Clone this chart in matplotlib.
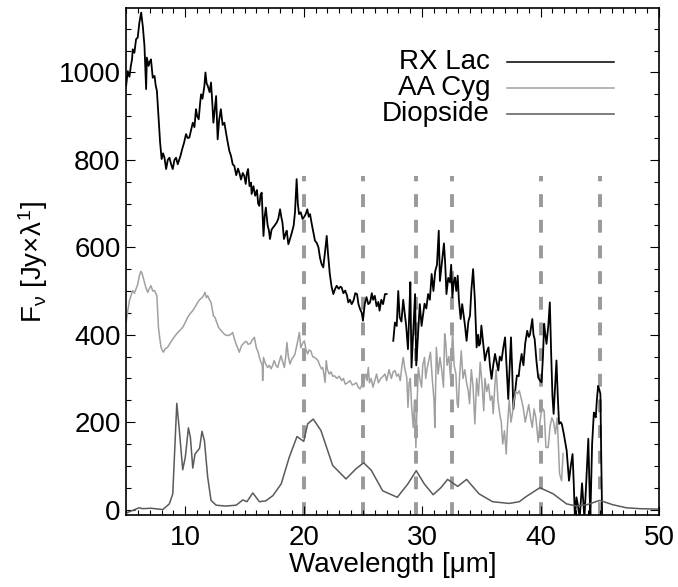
import numpy as np
import matplotlib
matplotlib.use("Agg")
import matplotlib.pyplot as plt

# =========================
# data
# =========================
rx_wave = [5.0, 5.14, 5.28, 5.4, 5.5, 5.56, 5.7, 5.84, 5.98, 6.12, 6.27, 6.41, 6.55, 6.69, 6.75, 6.9,
           7.0, 7.1, 7.25, 7.4, 7.5, 7.6, 7.73, 7.87, 8.0, 8.12, 8.24, 8.38, 8.52, 8.66, 8.8, 8.94,
           9.08, 9.22, 9.36, 9.5, 9.6, 9.73, 9.9, 10.06, 10.2, 10.34, 10.5, 10.63, 10.77, 10.9, 11.0,
           11.13, 11.25, 11.33, 11.45, 11.61, 11.7, 11.8, 11.9, 12.05, 12.17, 12.27, 12.37, 12.5, 12.6,
           12.73, 12.85, 13.0, 13.15, 13.3, 13.45, 13.58, 13.72, 13.86, 14.0, 14.14, 14.3, 14.45, 14.56,
           14.7, 14.85, 14.98, 15.1, 15.2, 15.3, 15.42, 15.55, 15.6, 15.75, 15.9, 16.05, 16.15, 16.25,
           16.35, 16.45, 16.6, 16.7, 16.8, 16.95, 17.05, 17.15, 17.28, 17.4, 17.55, 17.72, 17.85, 18.0,
           18.1, 18.2, 18.33, 18.45, 18.56, 18.7, 18.85, 19.0, 19.15, 19.26, 19.4, 19.5, 19.6, 19.75,
           19.9, 20.0, 20.15, 20.3, 20.42, 20.53, 20.7, 20.95, 21.1, 21.24, 21.38, 21.5, 21.65, 21.8,
           21.94, 22.05, 22.2, 22.35, 22.5, 22.65, 22.78, 22.95, 23.1, 23.2, 23.35, 23.5, 23.65, 23.76,
           23.9, 24.05, 24.2, 24.35, 24.5, 24.62, 24.75, 24.9, 25.0, 25.15, 25.3, 25.45, 25.6, 25.75,
           25.85, 26.0, 26.15, 26.3, 26.4, 26.55, 26.7, 26.86, 27.0, 27.2,
           27.56, 27.7, 27.85, 27.98, 28.1, 28.25, 28.4, 28.5, 28.65, 28.8, 28.9, 29.0, 29.1, 29.25,
           29.4, 29.5, 29.65, 29.8, 29.95, 30.05, 30.2, 30.35, 30.5, 30.65, 30.8, 30.95, 31.1, 31.25,
           31.4, 31.5, 31.65, 31.84, 31.95, 32.05, 32.2, 32.34, 32.45, 32.55, 32.66, 32.76, 32.88, 33.0,
           33.1, 33.25, 33.38, 33.5, 33.62, 33.75, 33.9, 34.04, 34.15, 34.3, 34.45, 34.6, 34.72, 34.8,
           34.9, 35.0, 35.15, 35.3, 35.45, 35.6, 35.72, 35.86, 36.0, 36.15, 36.3, 36.43, 36.55, 36.7,
           36.85, 37.0, 37.12, 37.27, 37.38, 37.5, 37.6, 37.7, 37.85, 38.0, 38.15, 38.25, 38.4, 38.55,
           38.7, 38.87, 39.0, 39.1, 39.3, 39.4, 39.5, 39.65, 39.8, 39.95, 40.08, 40.2, 40.3, 40.4, 40.5,
           40.65, 40.78, 40.9, 41.0, 41.1, 41.22, 41.34, 41.45, 41.56, 41.7, 41.8, 41.96, 42.1, 42.2,
           42.3, 42.4, 42.55, 42.7, 42.8, 42.9, 43.03, 43.15, 43.3, 43.4, 43.5, 43.6, 43.7, 43.85, 44.03,
           44.12, 44.2, 44.35, 44.5, 44.58, 44.66, 44.75, 44.86, 44.95, 45.05, 45.12, 45.2]
rx_flux = [969, 1003, 990, 1015, 1030, 1053, 1045, 1076, 1080, 1114, 1137, 1106, 1061, 962, 1034, 1015,
           1025, 1030, 988, 992, 970, 958, 901, 840, 802, 815, 805, 779, 800, 805, 790, 779,
           800, 805, 790, 802, 810, 824, 840, 859, 850, 851, 870, 885, 875, 916, 900,
           893, 930, 950, 940, 969, 1000, 975, 969, 955, 977, 935, 885, 920, 946,
           847, 890, 916, 880, 885, 860, 840, 820, 809, 790, 786, 765, 780, 771,
           755, 770, 763, 745, 770, 779, 740, 748, 722, 740, 718, 731, 700, 695,
           720, 725, 626, 670, 691, 650, 640, 619, 640, 645, 650, 657, 665, 687,
           670, 657, 619, 630, 638, 607, 620, 634, 650, 680, 756, 700, 676, 680,
           665, 668, 675, 687, 670, 676, 650, 615, 610, 600, 575, 562, 554, 590,
           626, 585, 539, 510, 493, 505, 512, 505, 510, 508, 495, 501, 490, 474,
           480, 470, 478, 495, 493, 470, 459, 450, 432, 470, 486, 470, 474, 495,
           480, 489, 465, 475, 455, 480, 470, 493, 493, np.nan,
           386, 428, 420, 500, 440, 430, 480, 455, 420, 367, 440, 520, 325, 410,
           493, 330, 400, 470, 420, 440, 471, 460, 493, 480, 539, 500, 545, 560,
           638, 523, 560, 609, 560, 493, 530, 520, 560, 485, 520, 531, 500, 535,
           480, 436, 470, 444, 420, 386, 430, 444, 500, 550, 480, 371, 400, 375,
           380, 421, 380, 341, 360, 371, 330, 299, 330, 356, 335, 318, 350, 341,
           370, 394, 330, 253, 320, 394, 320, 230, 270, 307, 305, 330, 356, 330,
           380, 409, 395, 400, 436, 400, 390, 340, 302, 295, 291, 350, 425, 400, 379,
           420, 474, 350, 260, 219, 280, 341, 260, 196, 200, 195, 173, 150, 135,
           100, 66, 100, 127, 60, -20, 28, 10, -20, 20, 60, 20, -20, 60, 162,
           60, -20, 150, 222, 215, 211, 250, 283, 275, 265, 120, -20]

aa_wave = [5.0, 5.14, 5.28, 5.42, 5.56, 5.7, 5.84, 5.98, 6.12, 6.25, 6.35, 6.45, 6.55, 6.7, 6.83, 6.95,
           7.1, 7.25, 7.4, 7.5, 7.6, 7.73, 7.85, 7.95, 8.05, 8.15, 8.3, 8.5, 8.7, 8.94, 9.15, 9.36,
           9.55, 9.78, 10.0, 10.2, 10.4, 10.63, 10.85, 11.05, 11.2, 11.41, 11.55, 11.66, 11.78, 11.89,
           12.0, 12.17, 12.3, 12.37, 12.5, 12.6, 12.7, 12.8, 13.0, 13.16, 13.35, 13.58, 13.8, 14.0,
           14.15, 14.28, 14.42, 14.56, 14.75, 14.98, 15.15, 15.3, 15.5, 15.65, 15.83, 16.0, 16.15,
           16.33, 16.5, 16.53, 16.6, 16.75, 16.95, 17.1, 17.24, 17.38, 17.5, 17.65, 17.8, 17.95, 18.08,
           18.2, 18.36, 18.48, 18.58, 18.7, 18.84, 19.0, 19.15, 19.26, 19.45, 19.63, 19.75, 19.9, 20.05,
           20.2, 20.33, 20.45, 20.6, 20.75, 20.9, 21.05, 21.2, 21.35, 21.5, 21.6, 21.7, 21.8, 21.9,
           22.0, 22.16, 22.3, 22.45, 22.6, 22.8, 23.0, 23.2, 23.35, 23.5, 23.7, 23.9, 24.1, 24.27,
           24.45, 24.6, 24.75, 24.9, 25.03, 25.15, 25.25, 25.35, 25.45, 25.55, 25.7, 25.85, 26.0,
           26.15, 26.3, 26.5, 26.7, 26.86, 27.0, 27.2, 27.4, 27.55, 27.7, 27.85, 28.0, 28.15, 28.3,
           28.4, 28.55, 28.7, 28.8, 28.9, 29.0, 29.1, 29.25, 29.35, 29.47, 29.58, 29.68, 29.8, 29.95,
           30.05, 30.2, 30.3, 30.4, 30.55, 30.7, 30.85, 31.0, 31.07, 31.2, 31.35, 31.5, 31.65, 31.8,
           31.9, 32.0, 32.1, 32.25, 32.4, 32.57, 32.7, 32.85, 32.96, 33.05, 33.15, 33.3, 33.45, 33.6,
           33.75, 33.9, 34.0, 34.15, 34.3, 34.45, 34.6, 34.75, 34.9, 35.05, 35.2, 35.3, 35.45, 35.6,
           35.75, 35.9, 36.0, 36.15, 36.25, 36.4, 36.55, 36.68, 36.8, 36.95, 37.1, 37.2, 37.35, 37.5,
           37.62, 37.75, 37.9, 38.05, 38.2, 38.4, 38.55, 38.7, 38.85, 39.0, 39.15, 39.3, 39.45, 39.6,
           39.8, 39.95, 40.1, 40.3, 40.45, 40.64, 40.8, 40.95, 41.1, 41.25, 41.4, 41.5, 41.6, 41.77,
           41.9]
aa_flux = [428, 455, 478, 490, 501, 495, 505, 515, 535, 545, 540, 530, 520, 505, 497, 505,
           512, 500, 501, 495, 489, 417, 390, 371, 365, 360, 368, 371, 380, 390, 398, 405,
           410, 417, 428, 440, 448, 455, 465, 474, 480, 485, 490, 497, 485, 489,
           482, 474, 455, 443, 440, 432, 425, 417, 410, 405, 400, 398, 400, 405,
           390, 379, 370, 360, 375, 382, 385, 378, 380, 388, 394, 370, 360,
           341, 330, 295, 348, 335, 325, 330, 322, 330, 341, 330, 325, 340, 352,
           340, 325, 350, 382, 350, 333, 345, 350, 356, 380, 405, 370, 380, 386,
           365, 356, 365, 363, 350, 348, 345, 341, 330, 322, 325, 310, 291, 341,
           320, 310, 315, 305, 306, 300, 305, 295, 300, 287, 290, 295, 285, 287,
           290, 280, 276, 285, 280, 300, 310, 295, 325, 290, 300, 280, 295,
           310, 290, 300, 305, 310, 295, 320, 300, 315, 318, 305, 310, 295, 330,
           348, 320, 302, 234, 290, 300, 240, 188, 250, 142, 250, 325, 300, 280,
           330, 348, 300, 320, 340, 360, 300, 250, 188, 371, 310, 348, 320, 280,
           402, 380, 330, 350, 300, 409, 330, 310, 242, 234, 300, 363, 300, 320,
           290, 270, 242, 320, 280, 196, 300, 260, 337, 290, 226, 300, 270, 287,
           250, 260, 219, 290, 320, 250, 219, 200, 150, 180, 127, 190, 250, 200,
           220, 250, 270, 265, 272, 250, 230, 200, 220, 240, 210, 188, 230, 210,
           154, 200, 234, 226, 142, 142, 190, 210, 200, 173, 210, 150, 82, 66,
           128]

di_wave = [5.0, 6.1, 6.4, 7.1, 8.1, 8.65, 8.94, 9.28, 9.5, 9.78, 10.0, 10.26, 10.43, 10.63, 10.82,
           11.05, 11.2, 11.41, 11.61, 11.89, 12.17, 12.6, 13.4, 14.3, 14.85, 15.2, 15.7, 16.25, 16.8,
           17.4, 18.1, 18.78, 19.43, 20.0, 20.33, 20.8, 21.45, 22.44, 23.57, 24.4, 25.06, 25.7, 26.66,
           27.9, 28.8, 29.5, 30.17, 30.93, 31.58, 32.15, 33.0, 33.75, 34.8, 35.94, 37.35, 38.2, 38.8,
           39.94, 41.06, 42.19, 43.03, 43.9, 45.0, 46.1, 47.25, 48.4, 49.9]
di_flux = [-8, 4, 2, 3, 0, 13, 36, 243, 180, 91, 120, 187, 165, 95, 127,
           135, 140, 179, 158, 74, 21, 10, 8, 10, 22, 18, 38, 18, 20,
           32, 59, 120, 167, 156, 196, 207, 181, 101, 70, 93, 107, 90, 43,
           28, 59, 89, 59, 34, 50, 69, 53, 69, 36, 18, 14, 18, 30,
           50, 36, 13, 8, 11, 21, 11, 4, 2, 1]

feature_wave = [20, 25, 29.5, 32.5, 40, 45]
series_names = ["RX Lac", "AA Cyg", "Diopside"]
series_colors = ["black", "#a0a0a0", "#5a5a5a"]

# =========================
# style
# =========================
plt.rcParams["font.family"] = ["Liberation Sans", "DejaVu Sans"]
plt.rcParams["mathtext.fontset"] = "custom"
plt.rcParams["mathtext.rm"] = "Liberation Sans"
plt.rcParams["mathtext.it"] = "Liberation Sans"
plt.rcParams["mathtext.sf"] = "Liberation Sans"

fig = plt.figure(figsize=(6.78, 5.87), dpi=100)
ax = fig.add_axes([0.186, 0.123, 0.786, 0.863])

# =========================
# spectra
# =========================
ax.plot(rx_wave, rx_flux, color=series_colors[0], lw=1.3)
ax.plot(aa_wave, aa_flux, color=series_colors[1], lw=1.1)
ax.plot(di_wave, di_flux, color=series_colors[2], lw=1.1)

# feature positions
ax.vlines(feature_wave, -12, 763, colors="#999999", lw=2.8,
          linestyles=(0, (3.3, 3.3)), zorder=0)

ax.set_xlim(5, 50)
ax.set_ylim(-12, 1147)
ax.set_xticks([10, 20, 30, 40, 50])
ax.set_yticks([0, 200, 400, 600, 800, 1000])
ax.set_xticks(np.arange(5, 51, 1), minor=True)
ax.set_yticks(np.arange(0, 1147, 50), minor=True)
ax.tick_params(which="both", direction="in", top=True, right=True, width=0.8)
ax.tick_params(which="major", length=6.5, labelsize=20)
ax.tick_params(which="minor", length=3.5)
ax.tick_params(axis="x", pad=7)
ax.tick_params(axis="y", pad=4)
for sp in ax.spines.values():
    sp.set_linewidth(1.2)

ax.set_xlabel("Wavelength [\u03bcm]", fontsize=20, labelpad=1)
ax.set_ylabel(r"F$_{\nu}$ [Jy$\times\lambda^{1}$]", fontsize=20, labelpad=6)

# legend (text right-aligned, line after it)
legend_y = [0.893, 0.842, 0.792]
for name, col, yy in zip(series_names, series_colors, legend_y):
    ax.text(0.683, yy, name, transform=ax.transAxes, ha="right", va="center", fontsize=20)
    ax.plot([0.715, 0.916], [yy, yy], transform=ax.transAxes, color=col, lw=1.1)

plt.savefig("out.png", dpi=100)
